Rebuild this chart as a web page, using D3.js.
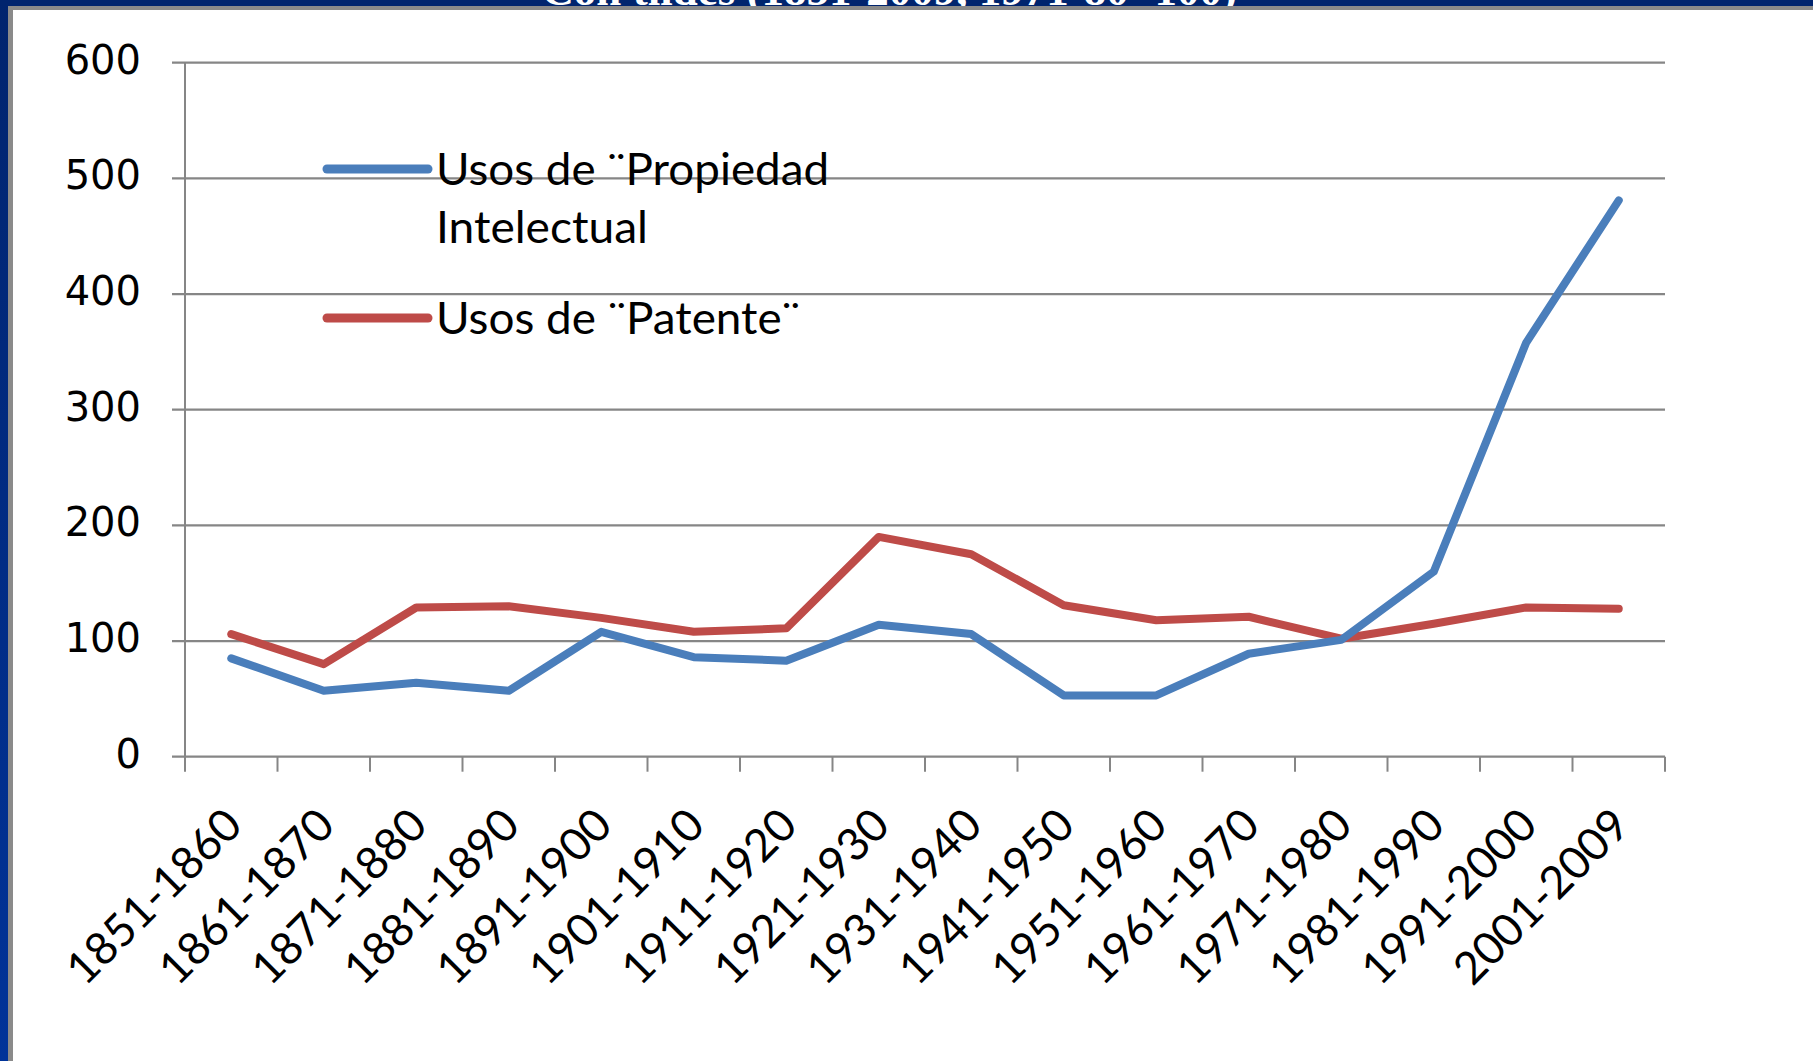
<!DOCTYPE html>
<html>
<head>
<meta charset="utf-8">
<script src="https://cdn.jsdelivr.net/npm/d3@7"></script>
<style>
  html, body { margin: 0; padding: 0; background: #ffffff; }
  svg { display: block; }
</style>
</head>
<body>
<svg id="chart" width="1813" height="1061"></svg>
<script>
// ---- data ----
const categories = ["1851-1860","1861-1870","1871-1880","1881-1890","1891-1900","1901-1910","1911-1920","1921-1930","1931-1940","1941-1950","1951-1960","1961-1970","1971-1980","1981-1990","1991-2000","2001-2009"];
const propiedadIntelectual = [85, 57, 64, 57, 108, 86, 83, 114, 106, 53, 53, 89, 101, 160, 358, 481];
const patente = [106, 80, 129, 130, 120, 108, 111, 190, 175, 131, 118, 121, 102, 115, 129, 128];
const yTicks = [0, 100, 200, 300, 400, 500, 600];
const seriesNames = [["Usos de ¨Propiedad", "Intelectual"], ["Usos de ¨Patente¨"]];
const titleText = "Con tildes (1851-2009, 1971-80=100)";

(function () {
const svg = d3.select("#chart");
const W = 1813, H = 1061;
const plotLeft = 185, plotRight = 1665, plotTop = 62.7, plotBottom = 756.7;
const gray = "#868686";
const blue = "#4A7EBB", red = "#BE4B48";

const defs = svg.append("defs");
const grad = defs.append("linearGradient").attr("id", "lg").attr("x1", 0).attr("y1", 0).attr("x2", 0).attr("y2", 1);
grad.append("stop").attr("offset", "0%").attr("stop-color", "#00246e");
grad.append("stop").attr("offset", "100%").attr("stop-color", "#003399");

svg.append("rect").attr("x", 0).attr("y", 0).attr("width", W).attr("height", H).attr("fill", "#ffffff");

// frame
svg.append("rect").attr("x", 0).attr("y", 0).attr("width", W).attr("height", 7).attr("fill", "#00246e");
svg.append("text").attr("x", 1237).attr("y", 5).attr("text-anchor", "end")
  .attr("font-family", "Liberation Serif, serif").attr("font-weight", "bold")
  .attr("font-size", 45).attr("fill", "#ffffff").text(titleText);
svg.append("rect").attr("x", 0).attr("y", 0).attr("width", 8).attr("height", H).attr("fill", "url(#lg)");
svg.append("rect").attr("x", 8).attr("y", 6).attr("width", W - 8).attr("height", 4).attr("fill", "#8a8a8a");
svg.append("rect").attr("x", 8).attr("y", 6).attr("width", 5).attr("height", H - 6).attr("fill", "#8a8a8a");

// scales
const x = d3.scaleBand().domain(categories).range([plotLeft, plotRight]).padding(0);
const y = d3.scaleLinear().domain([0, 600]).range([plotBottom, plotTop]);
const cx = c => x(c) + x.bandwidth() / 2;

const g = svg.append("g");
g.selectAll("line.grid").data(yTicks).enter().append("line")
  .attr("x1", plotLeft - 13).attr("x2", plotRight)
  .attr("y1", d => y(d)).attr("y2", d => y(d))
  .attr("stroke", gray).attr("stroke-width", 2.2);

g.append("line").attr("x1", plotLeft).attr("x2", plotLeft).attr("y1", plotTop).attr("y2", plotBottom)
  .attr("stroke", gray).attr("stroke-width", 2);

const bounds = categories.map(c => x(c)).concat([plotRight]);
g.selectAll("line.xt").data(bounds).enter().append("line")
  .attr("x1", d => d).attr("x2", d => d)
  .attr("y1", plotBottom).attr("y2", plotBottom + 15)
  .attr("stroke", gray).attr("stroke-width", 2);

g.selectAll("text.yl").data(yTicks).enter().append("text")
  .attr("x", 141).attr("y", d => y(d) + 11)
  .attr("text-anchor", "end")
  .attr("font-family", "DejaVu Sans, Verdana, sans-serif")
  .attr("font-size", 40).attr("fill", "#000")
  .text(d => d);

g.selectAll("text.xl").data(categories).enter().append("text")
  .attr("transform", d => `translate(${cx(d) + 2},${plotBottom + 60}) rotate(-45)`)
  .attr("text-anchor", "end")
  .attr("dy", "0.35em")
  .attr("font-family", "Lato, sans-serif")
  .attr("font-size", 45).attr("fill", "#000")
  .text(d => d);

const line = d3.line().x((d, i) => cx(categories[i])).y(d => y(d));
svg.append("path").datum(patente).attr("d", line)
  .attr("fill", "none").attr("stroke", red).attr("stroke-width", 8)
  .attr("stroke-linejoin", "round").attr("stroke-linecap", "round");
svg.append("path").datum(propiedadIntelectual).attr("d", line)
  .attr("fill", "none").attr("stroke", blue).attr("stroke-width", 8)
  .attr("stroke-linejoin", "round").attr("stroke-linecap", "round");

const legend = [
  { color: blue, lines: seriesNames[0], ly: 169, widths: [393, 212] },
  { color: red, lines: seriesNames[1], ly: 318, widths: [364] }
];
legend.forEach(item => {
  svg.append("line").attr("x1", 327).attr("x2", 428).attr("y1", item.ly).attr("y2", item.ly)
    .attr("stroke", item.color).attr("stroke-width", 9).attr("stroke-linecap", "round");
  item.lines.forEach((t, k) => {
    svg.append("text").attr("x", 436).attr("y", item.ly + 16 + k * 58)
      .attr("font-family", "Lato, sans-serif").attr("font-size", 45).attr("fill", "#000")
      .attr("textLength", item.widths[k]).attr("lengthAdjust", "spacingAndGlyphs")
      .text(t);
  });
});
})();
</script>
</body>
</html>
